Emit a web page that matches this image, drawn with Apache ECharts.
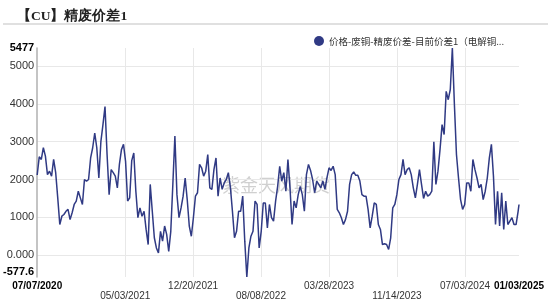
<!DOCTYPE html>
<html><head><meta charset="utf-8">
<script src="https://cdn.jsdelivr.net/npm/echarts@6/dist/echarts.min.js"></script>
<style>html,body{margin:0;padding:0;background:#fff;}#c{width:550px;height:305px;}</style>
</head><body><div id="c"></div>
<script>
const seriesName = '价格-废铜-精废价差-目前价差1（电解铜...';
const titleText = '【CU】精废价差1';
const watermarkText = '紫金天风期货';
const dates = [
'2020-07-07','2020-07-14','2020-07-21','2020-07-28','2020-08-04','2020-08-11','2020-08-18','2020-08-25','2020-09-01','2020-09-08','2020-09-15','2020-09-22','2020-09-29','2020-10-06','2020-10-13','2020-10-20','2020-10-27','2020-11-03','2020-11-10','2020-11-17','2020-11-24','2020-12-01','2020-12-08','2020-12-15','2020-12-22','2020-12-29',
'2021-01-05','2021-01-12','2021-01-19','2021-01-26','2021-02-02','2021-02-09','2021-02-16','2021-02-23','2021-03-02','2021-03-09','2021-03-16','2021-03-23','2021-03-30','2021-04-06','2021-04-13','2021-04-20','2021-04-27','2021-05-04','2021-05-11','2021-05-18','2021-05-25','2021-06-01','2021-06-08','2021-06-15','2021-06-22','2021-06-29','2021-07-06','2021-07-13','2021-07-20','2021-07-27','2021-08-03','2021-08-10','2021-08-17','2021-08-24','2021-08-31','2021-09-07','2021-09-14','2021-09-21','2021-09-28','2021-10-05','2021-10-12','2021-10-19','2021-10-26','2021-11-02','2021-11-09','2021-11-16','2021-11-23','2021-11-30','2021-12-07','2021-12-14','2021-12-21','2021-12-28',
'2022-01-04','2022-01-11','2022-01-18','2022-01-25','2022-02-01','2022-02-08','2022-02-15','2022-02-22','2022-03-01','2022-03-08','2022-03-15','2022-03-22','2022-03-29','2022-04-05','2022-04-12','2022-04-19','2022-04-26','2022-05-03','2022-05-10','2022-05-17','2022-05-24','2022-05-31','2022-06-07','2022-06-14','2022-06-21','2022-06-28','2022-07-05','2022-07-12','2022-07-19','2022-07-26','2022-08-02','2022-08-09','2022-08-16','2022-08-23','2022-08-30','2022-09-06','2022-09-13','2022-09-20','2022-09-27','2022-10-04','2022-10-11','2022-10-18','2022-10-25','2022-11-01','2022-11-08','2022-11-15','2022-11-22','2022-11-29','2022-12-06','2022-12-13','2022-12-20','2022-12-27',
'2023-01-03','2023-01-10','2023-01-17','2023-01-24','2023-01-31','2023-02-07','2023-02-14','2023-02-21','2023-02-28','2023-03-07','2023-03-14','2023-03-21','2023-03-28','2023-04-04','2023-04-11','2023-04-18','2023-04-25','2023-05-02','2023-05-09','2023-05-16','2023-05-23','2023-05-30','2023-06-06','2023-06-13','2023-06-20','2023-06-27','2023-07-04','2023-07-11','2023-07-18','2023-07-25','2023-08-01','2023-08-08','2023-08-15','2023-08-22','2023-08-29','2023-09-05','2023-09-12','2023-09-19','2023-09-26','2023-10-03','2023-10-10','2023-10-17','2023-10-24','2023-10-31','2023-11-07','2023-11-14','2023-11-21','2023-11-28','2023-12-05','2023-12-12','2023-12-19','2023-12-26',
'2024-01-02','2024-01-09','2024-01-16','2024-01-23','2024-01-30','2024-02-06','2024-02-13','2024-02-20','2024-02-27','2024-03-05','2024-03-12','2024-03-19','2024-03-26','2024-04-02','2024-04-09','2024-04-16','2024-04-23','2024-04-30','2024-05-07','2024-05-14','2024-05-21','2024-05-28','2024-06-04','2024-06-11','2024-06-18','2024-06-25','2024-07-02','2024-07-09','2024-07-16','2024-07-23','2024-07-30','2024-08-06','2024-08-13','2024-08-20','2024-08-27','2024-09-03','2024-09-10','2024-09-17','2024-09-24','2024-10-01','2024-10-08','2024-10-15','2024-10-22','2024-10-29','2024-11-05','2024-11-12','2024-11-19','2024-11-26','2024-12-03','2024-12-10','2024-12-17','2024-12-24','2024-12-31',
'2025-01-03'
];
const values = [
2120,2600,2530,2840,2620,2130,2220,2090,2530,2180,1515,810,1030,1075,1160,1210,940,1120,1340,1430,1690,1515,1340,2000,1955,2000,
2570,2840,3230,2840,2040,3010,3450,3930,2660,1600,2260,2180,2090,1780,2400,2790,2930,2480,1430,1515,2500,2700,1690,990,1250,1030,1160,680,280,1870,1160,460,190,60,630,370,770,550,100,630,1870,3150,1600,990,1250,1560,2040,1470,770,500,990,1560,
1650,2400,2310,2090,2220,2660,1780,1740,2260,2570,1560,2040,1740,1910,2000,2180,1800,1160,460,630,1160,1160,1560,370,-577.6,190,500,630,1430,1340,190,630,1380,1380,720,1340,990,900,1430,1820,2350,1960,2180,1690,2530,1780,810,1430,1250,1600,1820,1600,
1160,2130,2400,2240,2000,1650,1960,1870,1780,1960,1740,2050,2310,2240,2350,2130,1210,1120,990,810,940,1160,1870,2130,2200,2110,2110,1960,1600,1560,1560,1210,720,1030,1380,1340,810,680,280,300,280,150,460,1250,1340,1600,2000,2130,
2530,2130,2260,2310,2130,1780,1515,1870,2260,1870,1500,1690,1560,1600,1690,3000,1870,2220,2790,3450,3190,4330,4110,4380,5477,3980,2660,2040,1470,1210,1340,1910,1910,1690,2530,2260,2040,1780,1870,1470,1690,2040,2570,2930,2090,810,1690,770,1650,680,1430,810,900,990,810,810,1160,
1340
];
const xTickDates = ['2021-05-03','2021-12-20','2022-08-08','2023-03-28','2023-11-14','2024-07-03'];
const xLabelDates = ['2020-07-07','2021-05-03','2021-12-20','2022-08-08','2023-03-28','2023-11-14','2024-07-03','2025-01-03'];
const xLabelTexts = ['07/07/2020','05/03/2021','12/20/2021','08/08/2022','03/28/2023','11/14/2023','07/03/2024','01/03/2025'];
const yMin = -577.6;
const yMax = 5477;

function ts(s) { return echarts.time.parse(s).getTime(); }

const chart = echarts.init(document.getElementById('c'), null, {renderer: 'canvas'});
const lineColor = '#303a84';
const gridColor = '#e8e8e8';

chart.setOption({
  animation: false,
  backgroundColor: '#fff',
  textStyle: {fontFamily: '"Liberation Sans", Arial, sans-serif'},
  title: {
    text: titleText,
    left: 12, top: 5,
    textStyle: {fontSize: 13.5, fontWeight: 'bold', color: '#222', fontFamily: 'serif'}
  },
  graphic: [
    {type: 'line', shape: {x1: 3, y1: 24, x2: 548, y2: 24}, style: {stroke: '#e0e0e0', lineWidth: 2}, silent: true},
    {type: 'text', left: 222, top: 176, z: 0, silent: true,
     style: {text: watermarkText, fontSize: 18, fill: 'rgba(150,150,150,0.45)', fontFamily: '"Noto Sans CJK SC", sans-serif'}}
  ],
  legend: {
    left: 309, top: 31,
    itemWidth: 10, itemHeight: 10, itemGap: 10,
    icon: 'circle',
    textStyle: {fontSize: 9.5, color: '#333', fontFamily: '"Noto Sans CJK SC", sans-serif'},
    data: [seriesName]
  },
  grid: {left: 33, right: 31, top: 48, bottom: 28, containLabel: false},
  xAxis: {
    type: 'value',
    min: ts(dates[0]),
    max: ts(dates[dates.length - 1]),
    axisLine: {show: false},
    axisTick: {show: false, customValues: xTickDates.map(ts)},
    splitLine: {show: true, lineStyle: {color: gridColor, width: 1}},
    axisLabel: {
      customValues: xLabelDates.map(ts),
      showMinLabel: true, showMaxLabel: true,
      hideOverlap: false,
      margin: 4,
      fontSize: 10, lineHeight: 10, color: '#333',
      formatter: function (v) {
        const s = echarts.time.format(v, '{MM}/{dd}/{yyyy}', false);
        const k = xLabelTexts.indexOf(s);
        if (k === 0 || k === xLabelTexts.length - 1) return '{b|' + s + '}';
        if (k % 2 === 1) return '\n' + s;
        return s;
      },
      rich: {b: {fontWeight: 'bold', fontSize: 10, color: '#000', lineHeight: 10}}
    }
  },
  yAxis: {
    type: 'value',
    min: yMin, max: yMax,
    axisLine: {show: true, lineStyle: {color: '#b0b0b0', width: 1.5}},
    axisTick: {show: false},
    splitLine: {show: true, showMinLine: false, showMaxLine: false, lineStyle: {color: gridColor, width: 1}},
    axisLabel: {
      margin: 3, fontSize: 11, color: '#333',
      showMinLabel: true, showMaxLabel: true,
      verticalAlignMinLabel: 'bottom',
      formatter: function (v) {
        if (Math.abs(v - yMax) < 1e-6) return '{b|5477}';
        if (Math.abs(v - yMin) < 1e-6) return '{b|-577.6}';
        if (v === 0) return '0.000';
        return String(v);
      },
      rich: {b: {fontWeight: 'bold', fontSize: 11, color: '#000'}}
    }
  },
  series: [{
    name: seriesName,
    type: 'line',
    showSymbol: false,
    symbol: 'circle',
    itemStyle: {color: lineColor},
    lineStyle: {color: lineColor, width: 1.5},
    data: dates.map(function (d, i) { return [ts(d), values[i]]; }),
    z: 3
  }]
});
</script></body></html>
